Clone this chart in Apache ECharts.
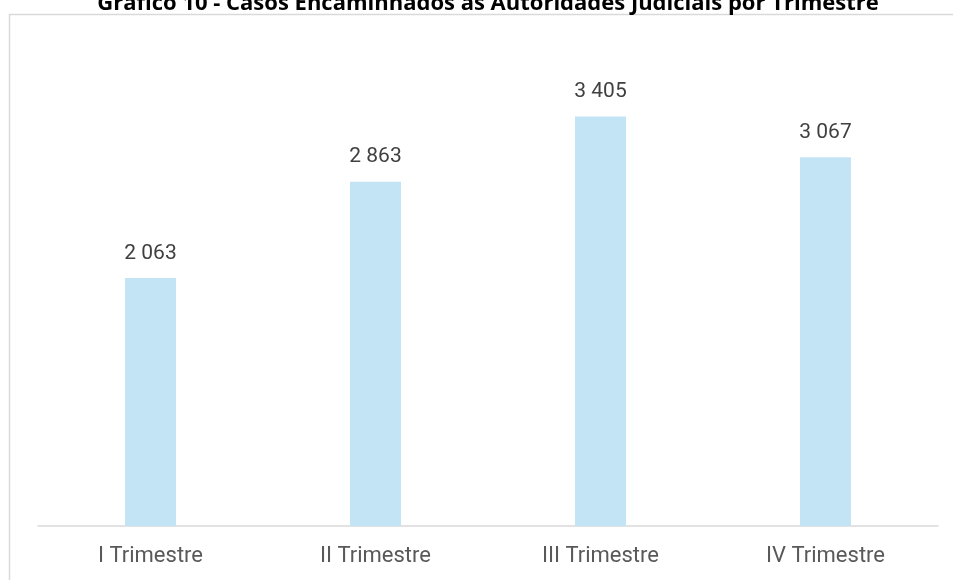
<!DOCTYPE html>
<html>
<head>
<meta charset="utf-8">
<script src="https://cdn.jsdelivr.net/npm/echarts@6/dist/echarts.min.js"></script>
<style>
  html, body { margin: 0; padding: 0; background: #fff; }
  #chart { width: 953px; height: 580px; }
</style>
</head>
<body>
<div id="chart"></div>
<script>
var trimestres = ['I Trimestre', 'II Trimestre', 'III Trimestre', 'IV Trimestre'];
var casos = [2063, 2863, 3405, 3067];
var titulo = 'Gráfico 10 - Casos Encaminhados às Autoridades Judiciais por Trimestre';

function fmt(v) {
  return String(v).replace(/\B(?=(\d{3})+(?!\d))/g, ' ');
}

var chart = echarts.init(document.getElementById('chart'));
chart.setOption({
  animation: false,
  graphic: [{
    type: 'rect',
    shape: { x: 9.5, y: 14.5, width: 960, height: 600 },
    style: { fill: null, stroke: '#d9d9d9', lineWidth: 1.5 },
    z: -1
  }, {
    // title sits partly above the top edge, as in the source
    type: 'text',
    x: 488,
    y: 15,
    style: {
      text: titulo,
      align: 'center',
      verticalAlign: 'bottom',
      fontFamily: 'Open Sans',
      fontWeight: 'bold',
      fontSize: 22,
      fill: '#000'
    }
  }],
  grid: { left: 38, right: 15, top: 45, bottom: 54 },
  xAxis: {
    type: 'category',
    data: trimestres,
    axisTick: { show: false },
    axisLine: { lineStyle: { color: '#d9d9d9', width: 1.5 } },
    axisLabel: {
      color: '#595959',
      fontSize: 22,
      fontFamily: 'Roboto',
      margin: 19
    }
  },
  yAxis: {
    type: 'value',
    min: 0,
    max: 4000,
    show: false,
    splitLine: { show: false }
  },
  series: [{
    type: 'bar',
    data: casos,
    barWidth: 51,
    itemStyle: { color: '#c2e4f5' },
    label: {
      show: true,
      position: 'top',
      distance: 14,
      color: '#404040',
      fontSize: 21,
      fontFamily: 'Roboto',
      formatter: function (p) { return fmt(p.value); }
    }
  }]
});
</script>
</body>
</html>
